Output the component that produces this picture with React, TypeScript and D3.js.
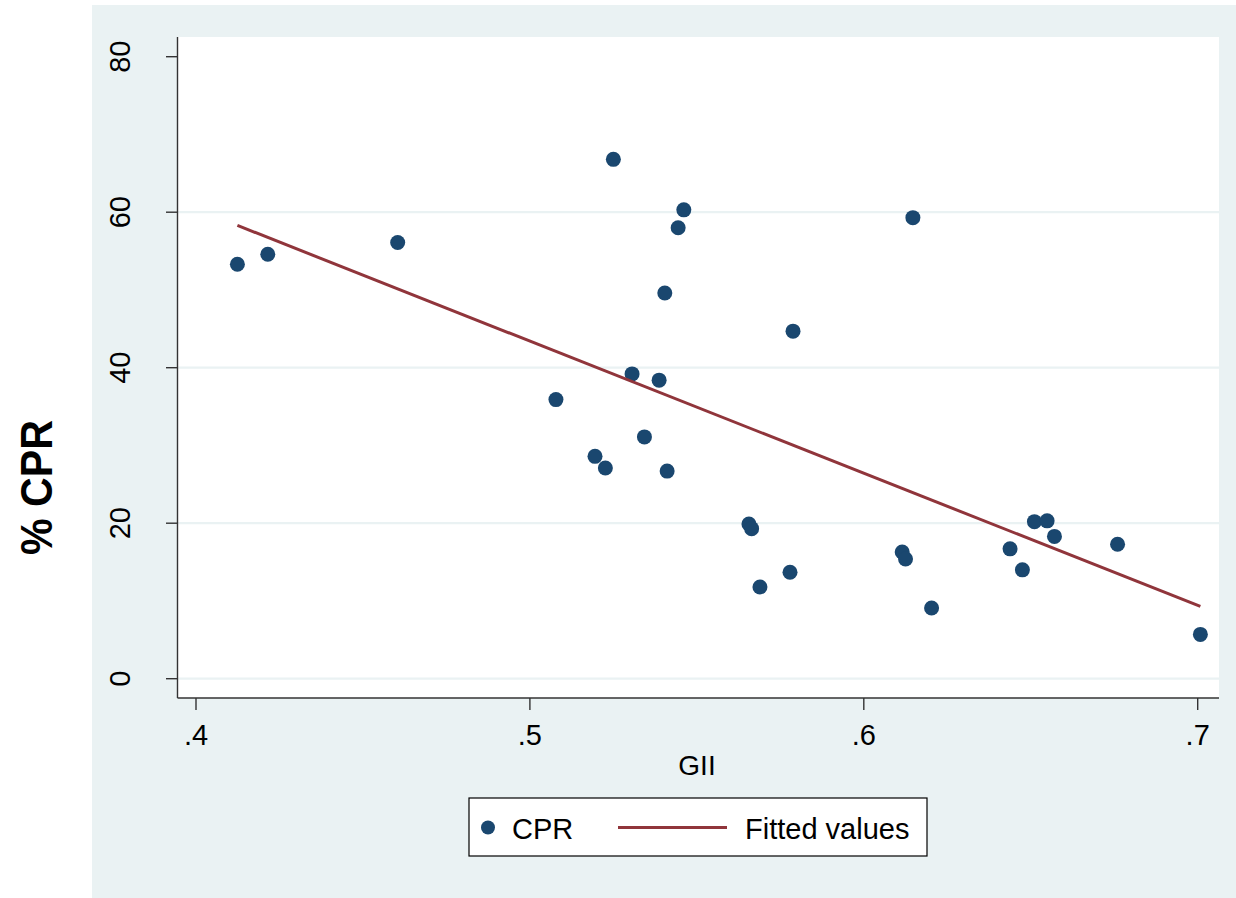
import React from "react";
import * as d3 from "d3";

const gii = [0.4124, 0.4215, 0.4604, 0.5078, 0.5195, 0.5226, 0.525, 0.5306, 0.5343, 0.5387, 0.5404, 0.5411, 0.5444, 0.5461, 0.5656, 0.5664, 0.5689, 0.5779, 0.5788, 0.6115, 0.6125, 0.6147, 0.6203, 0.6438, 0.6475, 0.6511, 0.6549, 0.6571, 0.676, 0.7008];
const cpr = [53.3, 54.6, 56.1, 35.9, 28.6, 27.1, 66.8, 39.2, 31.1, 38.4, 49.6, 26.7, 58.0, 60.3, 19.9, 19.3, 11.8, 13.7, 44.7, 16.3, 15.4, 59.3, 9.1, 16.7, 14.0, 20.2, 20.3, 18.3, 17.3, 5.7];
const fittedX = [0.4124, 0.7008];
const fittedY = [58.3, 9.3];
const xTicks = [0.4, 0.5, 0.6, 0.7];
const xTickLabels = [".4", ".5", ".6", ".7"];
const yTicks = [0, 20, 40, 60, 80];
const yGrid = [0, 20, 40, 60];

const W = 1236;
const H = 898;
const plotL = 177.5;
const plotR = 1219;
const plotT = 37;
const plotB = 698;

const FONT = "'Liberation Sans', Arial, sans-serif";
const BG = "#eaf2f3";
const NAVY = "#1a476f";
const MAROON = "#90353b";

export default function App() {
  const x = d3.scaleLinear().domain([0.4, 0.7]).range([196, 1197.7]);
  const y = d3.scaleLinear().domain([0, 80]).range([678.7, 56.7]);
  const line = d3
    .line<number>()
    .x((_, i) => x(fittedX[i]))
    .y((d) => y(d));

  return (
    <svg
      width={W}
      height={H}
      style={{ position: "absolute", left: 0, top: 0, display: "block" }}
      fontFamily={FONT}
    >
      <rect x={0} y={0} width={W} height={H} fill="#ffffff" />
      <rect x={92} y={5} width={W - 92} height={H - 5} fill={BG} />
      <rect x={plotL} y={plotT} width={plotR - plotL} height={plotB - plotT} fill="#ffffff" />

      {yGrid.map((t) => (
        <line key={"g" + t} x1={plotL} x2={plotR} y1={y(t)} y2={y(t)} stroke={BG} strokeWidth={2.2} />
      ))}

      {/* axes */}
      <line x1={plotL} x2={plotL} y1={plotT} y2={plotB} stroke="#333" strokeWidth={1.4} />
      <line x1={plotL} x2={plotR} y1={plotB} y2={plotB} stroke="#333" strokeWidth={1.4} />

      {yTicks.map((t) => (
        <g key={"y" + t}>
          <line x1={166} x2={plotL} y1={y(t)} y2={y(t)} stroke="#333" strokeWidth={1.4} />
          <text
            transform={`translate(130,${y(t)}) rotate(-90)`}
            textAnchor="middle"
            fontSize={29}
            fill="#000"
          >
            {t}
          </text>
        </g>
      ))}

      {xTicks.map((t, i) => (
        <g key={"x" + t}>
          <line x1={x(t)} x2={x(t)} y1={plotB} y2={710} stroke="#333" strokeWidth={1.4} />
          <text x={x(t)} y={745} textAnchor="middle" fontSize={29} fill="#000">
            {xTickLabels[i]}
          </text>
        </g>
      ))}

      <text x={697} y={775} textAnchor="middle" fontSize={28} fill="#000">
        GII
      </text>

      <text
        transform={`translate(52,487.5) rotate(-90)`}
        textAnchor="middle"
        fontSize={44}
        fontWeight="bold"
        fill="#000"
        textLength={135}
        lengthAdjust="spacingAndGlyphs"
      >
        % CPR
      </text>

      {gii.map((g, i) => (
        <circle key={"p" + i} cx={x(g)} cy={y(cpr[i])} r={7.5} fill={NAVY} />
      ))}

      <path d={line(fittedY) || ""} fill="none" stroke={MAROON} strokeWidth={3} />

      {/* legend */}
      <rect x={469} y={798} width={458} height={58} fill="#ffffff" stroke="#000" strokeWidth={1.2} />
      <circle cx={488} cy={827.5} r={7} fill={NAVY} />
      <text x={512} y={839} fontSize={29} fill="#000">
        CPR
      </text>
      <line x1={618} x2={727} y1={827.5} y2={827.5} stroke={MAROON} strokeWidth={3} />
      <text x={745} y={839} fontSize={29} fill="#000">
        Fitted values
      </text>
    </svg>
  );
}
